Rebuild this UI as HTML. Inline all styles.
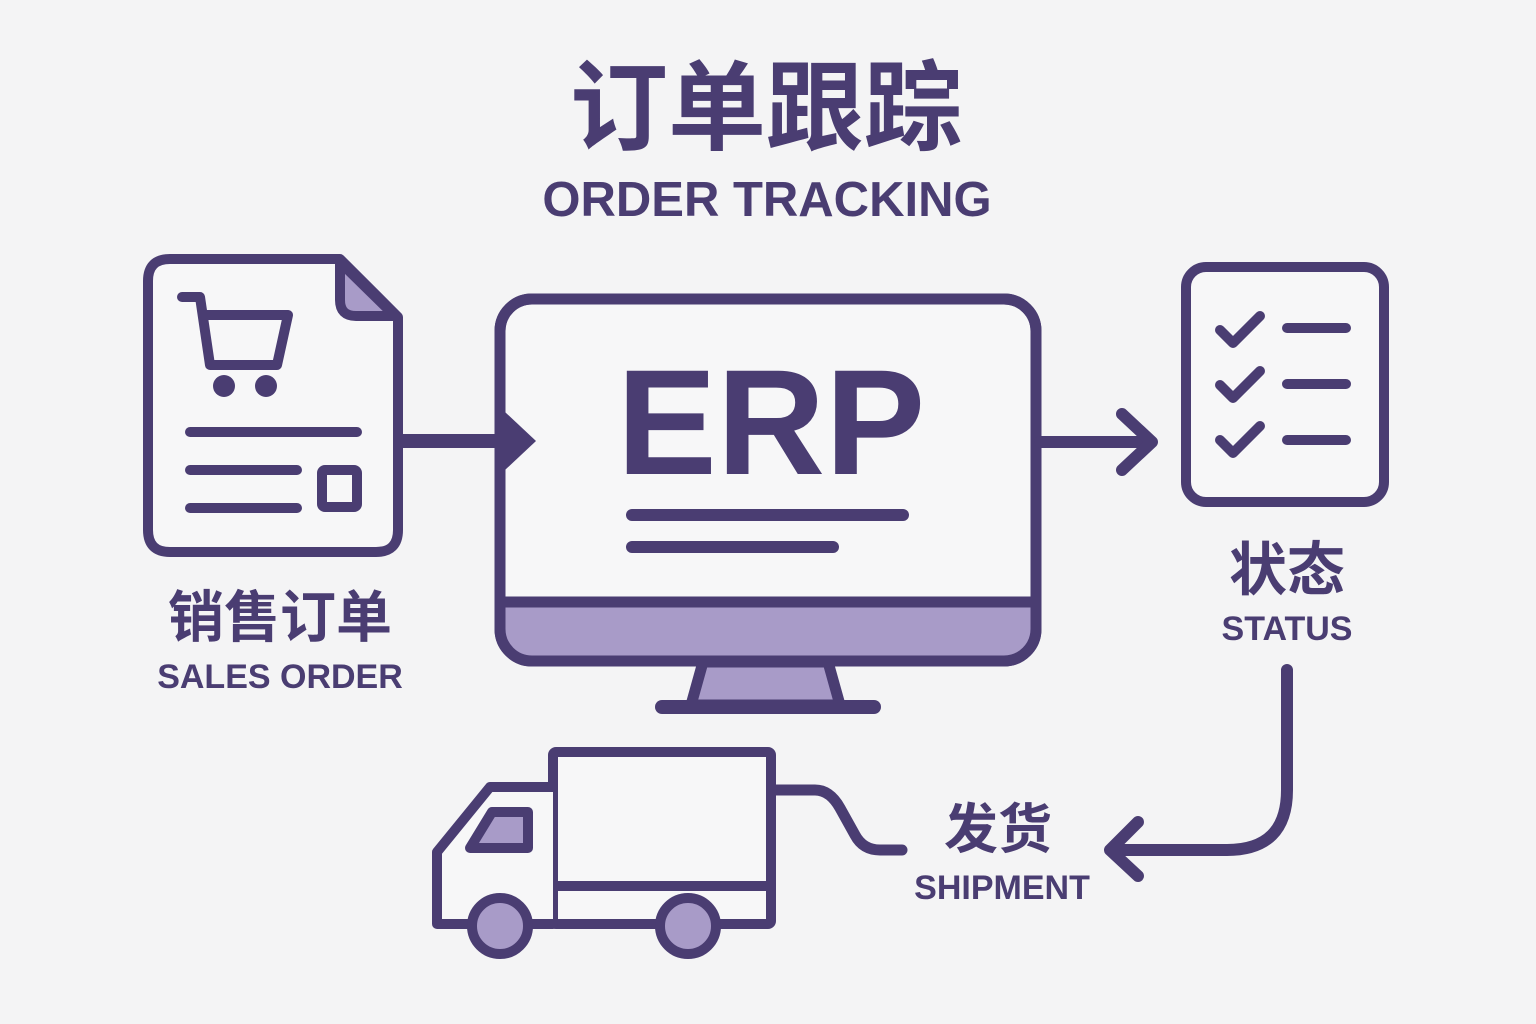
<!DOCTYPE html>
<html><head><meta charset="utf-8"><style>
html,body{margin:0;padding:0;background:#f4f4f5;}
svg{display:block}
text{font-family:"Liberation Sans","Noto Sans CJK SC",sans-serif;fill:#4a3d72;font-weight:bold;}
</style></head><body>
<svg width="1536" height="1024" viewBox="0 0 1536 1024" xmlns="http://www.w3.org/2000/svg">
<rect width="1536" height="1024" fill="#f4f4f5"/>
<text x="766" y="142" font-size="98" text-anchor="middle">订单跟踪</text>
<text x="767" y="216" font-size="49" text-anchor="middle">ORDER TRACKING</text>

<g stroke="#4a3d72" stroke-width="10" stroke-linecap="round" stroke-linejoin="round" fill="none">
<path d="M170,259 H340 L398,317 V530 Q398,552 376,552 H170 Q148,552 148,530 V281 Q148,259 170,259 Z" fill="#f7f7f8"/>
<path d="M340,262 V300 Q340,316 356,316 H395 Z" fill="#a89bc8"/>
<path d="M182,297 H200 L210,365 H277 L288,315 H205"/>
<line x1="190" y1="432" x2="357" y2="432"/>
<line x1="190" y1="470" x2="297" y2="470"/>
<line x1="190" y1="508" x2="297" y2="508"/>
<rect x="322" y="470" width="35" height="37" rx="3"/>
</g>
<circle cx="224" cy="386" r="11" fill="#4a3d72"/>
<circle cx="266" cy="386" r="11" fill="#4a3d72"/>

<line x1="398" y1="441" x2="510" y2="441" stroke="#4a3d72" stroke-width="14"/>

<g stroke="#4a3d72" stroke-width="11" stroke-linecap="round" stroke-linejoin="round">
<path d="M703,662 L828,662 L840,705 L691,705 Z" fill="#a89bc8"/>
<line x1="662" y1="707" x2="874" y2="707" stroke-width="14"/>
<rect x="500" y="299" width="536" height="362" rx="32" fill="#f7f7f8"/>
<path d="M505,603 H1031 V630 Q1031,656 1005,656 H531 Q505,656 505,630 Z" fill="#a89bc8" stroke="none"/>
<line x1="505" y1="602" x2="1031" y2="602"/>
<rect x="500" y="299" width="536" height="362" rx="32" fill="none"/>
<line x1="632" y1="515" x2="903" y2="515" stroke-width="12"/>
<line x1="632" y1="547" x2="833" y2="547" stroke-width="12"/>
</g>
<polygon points="505,412 536,441 505,470" fill="#4a3d72"/>
<text x="771" y="474" font-size="150" text-anchor="middle">ERP</text>

<g stroke="#4a3d72" stroke-width="12" stroke-linecap="round" stroke-linejoin="round" fill="none">
<line x1="1040" y1="442" x2="1150" y2="442"/>
<polyline points="1122,414 1152,442 1122,470"/>
<rect x="1186" y="267" width="198" height="235" rx="20" fill="#f7f7f8" stroke-width="10"/>
<polyline points="1220,330 1233,343 1260,316" stroke-width="10"/>
<polyline points="1220,385 1233,398 1260,371" stroke-width="10"/>
<polyline points="1220,440 1233,453 1260,426" stroke-width="10"/>
<line x1="1287" y1="328" x2="1346" y2="328" stroke-width="10"/>
<line x1="1287" y1="384" x2="1346" y2="384" stroke-width="10"/>
<line x1="1287" y1="440" x2="1346" y2="440" stroke-width="10"/>
<path d="M1287,670 V790 Q1287,850 1227,850 H1112" stroke-width="12"/>
<polyline points="1138,822 1110,850 1138,876" stroke-width="12"/>
</g>
<text x="1287" y="590" font-size="58" text-anchor="middle">状态</text>
<text x="1287" y="640" font-size="34" text-anchor="middle">STATUS</text>

<text x="280" y="637" font-size="56" text-anchor="middle">销售订单</text>
<text x="280" y="688" font-size="34" text-anchor="middle">SALES ORDER</text>

<text x="998" y="848" font-size="54" text-anchor="middle">发货</text>
<text x="1002" y="899" font-size="34" text-anchor="middle">SHIPMENT</text>

<g stroke="#4a3d72" stroke-width="10" stroke-linecap="round" stroke-linejoin="round">
<path d="M772,790 H815 Q830,790 840,808 L855,835 Q863,850 880,850 H902" fill="none" stroke-width="11"/>
<rect x="553" y="752" width="218" height="172" rx="3" fill="#f7f7f8"/>
<line x1="553" y1="886" x2="771" y2="886"/>
<path d="M553,787 H490 L437,852 V924 H553" fill="#f7f7f8"/>
<path d="M470,848 L492,812 H528 V848 Z" fill="#a89bc8"/>
<circle cx="500" cy="926" r="28" fill="#a89bc8"/>
<circle cx="688" cy="926" r="28" fill="#a89bc8"/>
</g>
</svg>
</body></html>
